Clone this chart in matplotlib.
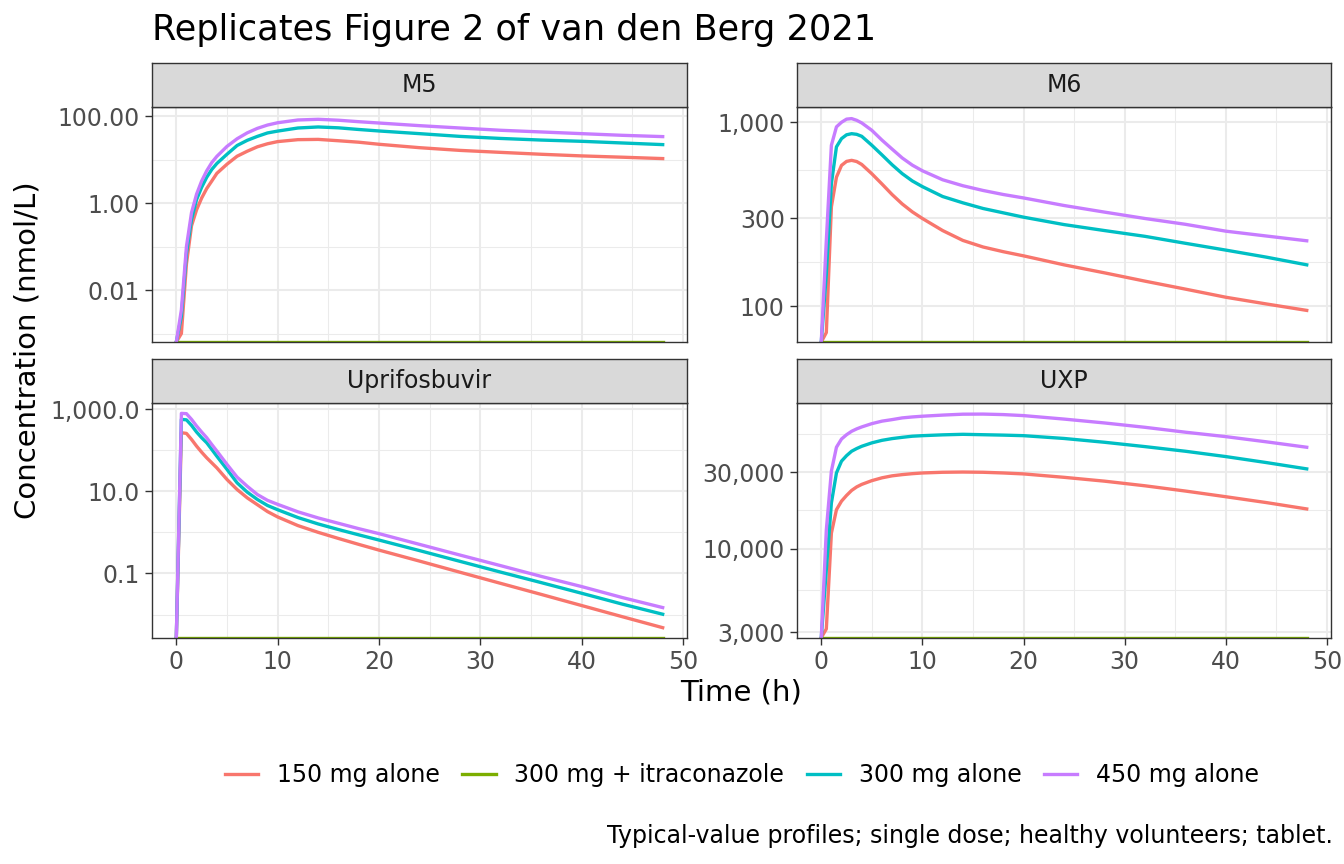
import numpy as np
import matplotlib
matplotlib.use("Agg")
import matplotlib.pyplot as plt
from matplotlib.ticker import FixedLocator, FuncFormatter, NullFormatter

plt.rcParams['font.family'] = ['DejaVu Sans']

# time points (h)
time = [0, 0.5, 1, 1.5, 2, 2.5, 3, 3.5, 4, 5, 6, 7, 8, 9, 10, 12, 14, 16, 18, 20, 24, 28, 32, 36, 40, 44, 48]

groups = ['150 mg alone', '300 mg + itraconazole', '300 mg alone', '450 mg alone']
colors = ['#F8766D', '#7CAE00', '#00BFC4', '#C77CFF']

# concentrations (nmol/L); 0 = below the panel (drawn at its floor)
m5_150 = [0, 0.001, 0.04, 0.3, 0.7, 1.3, 2.15, 3.2, 4.8, 7.8, 11.9, 15.5, 19.6, 23, 25.8, 28.6, 29, 27,
          25, 22.4, 18.7, 16.2, 14.6, 13.2, 12.1, 11.3, 10.5]
m5_300 = [0, 0.0025, 0.07, 0.42, 1.2, 2.3, 3.9, 5.9, 8.1, 13.2, 21, 27.6, 34, 40.8, 45, 53, 56, 53.5,
          49, 45.3, 39.3, 34, 30.5, 28, 26.2, 24, 22]
m5_450 = [0, 0.0035, 0.1, 0.6, 1.6, 3.2, 5.5, 8.5, 11.8, 20, 30, 41, 52, 62, 70, 81, 84, 80,
          74, 69, 60, 53, 47, 43, 39.3, 36, 33.6]

m6_150 = [0, 72, 347, 503, 583, 613, 621, 612, 590, 525, 462, 405, 360, 326, 300, 258, 228, 210,
          198, 188, 168, 152, 137, 124, 112, 103, 95]
m6_300 = [0, 150, 464, 735, 815, 855, 867, 860, 839, 750, 665, 588, 526, 480, 447, 395, 365, 340,
          322, 305, 278, 258, 240, 220, 202, 185, 168]
m6_450 = [0, 228, 750, 944, 1000, 1040, 1047, 1025, 992, 904, 800, 715, 640, 585, 545, 487, 452, 426,
          405, 388, 353, 325, 300, 279, 256, 241, 227]

upr_150 = [0, 265, 255, 182, 125, 89, 65, 49, 37, 19.3, 11, 6.9, 4.7, 3.2, 2.37, 1.46, 1.0, 0.71,
           0.51, 0.37, 0.20, 0.107, 0.0575, 0.031, 0.0166, 0.0089, 0.0048]
upr_300 = [0, 560, 545, 400, 275, 200, 151, 104, 71, 34, 16, 9.5, 6.3, 4.5, 3.55, 2.29, 1.6, 1.17,
           0.87, 0.65, 0.36, 0.197, 0.108, 0.06, 0.033, 0.018, 0.0102]
upr_450 = [0, 783, 770, 560, 385, 275, 200, 137, 95, 45, 22, 13.2, 8.3, 6.0, 4.8, 3.16, 2.24, 1.66,
           1.23, 0.93, 0.51, 0.28, 0.155, 0.085, 0.048, 0.026, 0.0148]

uxp_150 = [0, 3150, 12500, 17500, 19800, 21500, 23100, 24300, 25200, 26600, 27700, 28500, 29000, 29400,
           29700, 30000, 30100, 30000, 29700, 29300, 27900, 26400, 24700, 22900, 21100, 19400, 17700]
uxp_300 = [0, 7400, 19300, 29700, 35200, 38100, 40600, 42200, 43600, 45800, 47500, 48700, 49600, 50400,
           50800, 51400, 51800, 51500, 51200, 50800, 48800, 46200, 43400, 40600, 37600, 34500, 31500]
uxp_450 = [0, 13100, 30500, 43000, 48400, 51500, 54100, 56000, 57600, 60400, 62600, 64000, 65600, 66500,
           67200, 68300, 69200, 69300, 68800, 67800, 64500, 61000, 57300, 53400, 50100, 46500, 43000]

itra = [0] * len(time)   # 300 mg + itraconazole: no values on the log axis

panels = [
    ('M5', [m5_150, itra, m5_300, m5_450], (10**-3.195, 10**2.207), [0.01, 1, 100], '{:.2f}'),
    ('M6', [m6_150, itra, m6_300, m6_450], (10**1.806, 10**3.083), [100, 300, 1000], '{:,.0f}'),
    ('Uprifosbuvir', [upr_150, itra, upr_300, upr_450], (10**-2.56, 10**3.146), [0.1, 10, 1000], '{:,.1f}'),
    ('UXP', [uxp_150, itra, uxp_300, uxp_450], (10**3.444, 10**4.910), [3000, 10000, 30000], '{:,.0f}'),
]

W, H = 1344, 864
fig = plt.figure(figsize=(W / 100, H / 100), dpi=100)

# pixel boxes: (left, right, strip_top, panel_top, panel_bottom)
boxes = [(152, 687, 63, 107, 342), (797, 1331, 63, 107, 342),
         (152, 687, 359, 403, 637.6), (797, 1331, 359, 403, 637.6)]

t = np.array(time)
lines = []
for i, (name, series, ylim, majors, fmt) in enumerate(panels):
    l, r, st, pt, pb = boxes[i]
    ax = fig.add_axes([l / W, 1 - pb / H, (r - l) / W, (pb - pt) / H])
    sax = fig.add_axes([l / W, 1 - pt / H, (r - l) / W, (pt - st) / H])

    ax.set_yscale('log')
    ax.set_xlim(-2.4, 50.4)
    ax.set_ylim(*ylim)
    for vals, c, g in zip(series, colors, groups):
        v = np.array(vals, dtype=float)
        v = np.where(v > 0, v, ylim[0])
        ln, = ax.plot(t, v, color=c, lw=2.4, label=g, solid_joinstyle='round', zorder=3)
        if i == 0:
            lines.append(ln)

    # minor grid halfway (in log space) between the major breaks, plus one beyond each end
    lm = np.log10(majors)
    step = lm[1] - lm[0]
    minors = [10 ** ((a + b) / 2) for a, b in zip(lm[:-1], lm[1:])]
    minors += [10 ** (lm[0] - step / 2), 10 ** (lm[-1] + (lm[-1] - lm[-2]) / 2)]
    ax.yaxis.set_major_locator(FixedLocator(majors))
    ax.yaxis.set_minor_locator(FixedLocator(minors))
    ax.yaxis.set_major_formatter(FuncFormatter(lambda v, p, f=fmt: f.format(v)))
    ax.yaxis.set_minor_formatter(NullFormatter())
    ax.xaxis.set_major_locator(FixedLocator([0, 10, 20, 30, 40, 50]))
    ax.xaxis.set_minor_locator(FixedLocator([5, 15, 25, 35, 45]))

    ax.grid(True, which='major', color='#EBEBEB', lw=1.5, zorder=0)
    ax.grid(True, which='minor', color='#EBEBEB', lw=0.75, zorder=0)
    ax.set_axisbelow(True)
    ax.tick_params(which='minor', length=0)
    ax.tick_params(which='major', length=5.3, width=1.0, color='#333333',
                   labelsize=17, labelcolor='#4D4D4D', pad=3.5)
    if i < 2:
        ax.tick_params(axis='x', which='major', length=0, labelbottom=False)
    for s in ax.spines.values():
        s.set_color('#333333')
        s.set_linewidth(1.0)
        s.set_zorder(4)

    sax.set_facecolor('#D9D9D9')
    sax.set_xticks([])
    sax.set_yticks([])
    for s in sax.spines.values():
        s.set_color('#333333')
        s.set_linewidth(1.0)
    sax.text(0.5, 0.5, name, ha='center', va='center', fontsize=17,
             color='#1A1A1A', transform=sax.transAxes)

fig.text(152 / W, 1 - 30 / H, 'Replicates Figure 2 of van den Berg 2021',
         ha='left', va='center', fontsize=25.3, color='black')
fig.text(741 / W, 1 - 693 / H, 'Time (h)', ha='center', va='center', fontsize=21)
fig.text(28 / W, 1 - 350 / H, 'Concentration (nmol/L)', ha='center', va='center',
         rotation=90, fontsize=21)

fig.legend(lines, groups, loc='center', bbox_to_anchor=(742 / W, 1 - 775 / H),
           ncol=4, frameon=False, fontsize=17, handlelength=1.4,
           handletextpad=0.8, columnspacing=0.95)

fig.text(1333 / W, 1 - 836 / H, 'Typical-value profiles; single dose; healthy volunteers; tablet.',
         ha='right', va='center', fontsize=17, color='black')

fig.savefig('out.png', dpi=100)
